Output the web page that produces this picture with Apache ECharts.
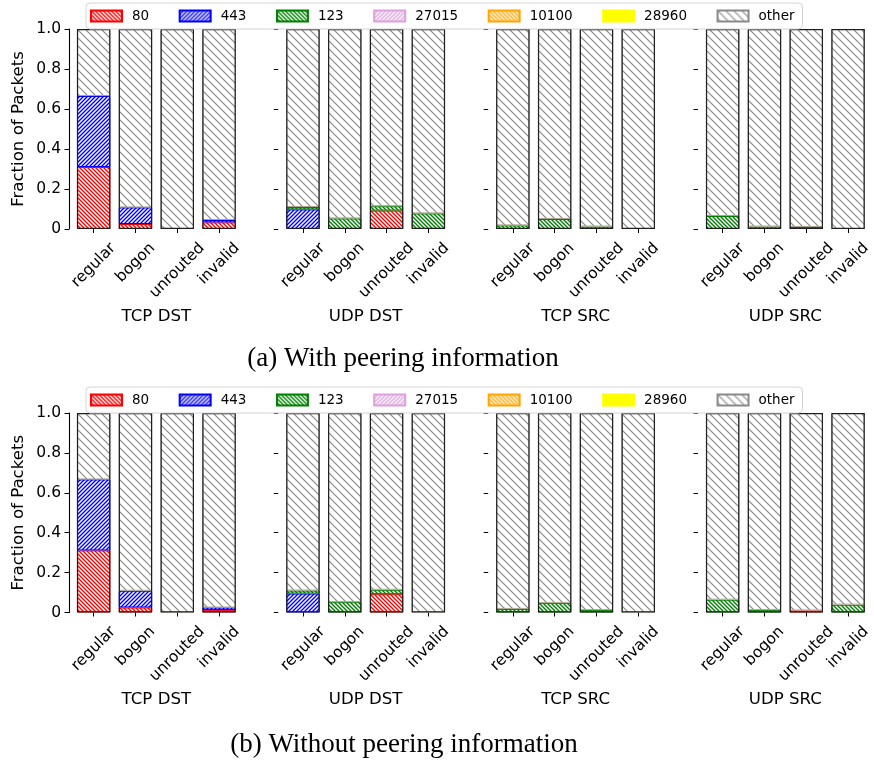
<!DOCTYPE html>
<html><head><meta charset="utf-8">
<script src="https://cdn.jsdelivr.net/npm/echarts@6/dist/echarts.min.js"></script>
<style>html,body{margin:0;padding:0;background:#fff}#c{width:874px;height:760px}</style>
</head><body><div id="c"></div><script>
const categories = ['regular', 'bogon', 'unrouted', 'invalid'];
const groups = ['TCP DST', 'UDP DST', 'TCP SRC', 'UDP SRC'];
const seriesNames = ['80', '443', '123', '27015', '10100', '28960', 'other'];
const yTicks = [0, 0.2, 0.4, 0.6, 0.8, 1.0];
const subtitles = ['(a) With peering information', '(b) Without peering information'];
const yTitle = 'Fraction of Packets';

// (a) With peering information — one row per group, one column per category
const withPeer80    = [[0.31, 0.025, 0, 0.033], [0, 0, 0.092, 0], [0, 0, 0, 0], [0, 0, 0.01, 0]];
const withPeer443   = [[0.355, 0.083, 0, 0.012], [0.098, 0, 0, 0], [0, 0, 0, 0], [0, 0, 0, 0]];
const withPeer123   = [[0, 0, 0, 0], [0.012, 0.053, 0.022, 0.078], [0.018, 0.05, 0.012, 0], [0.065, 0.012, 0, 0]];
const withPeer27015 = [[0, 0, 0, 0], [0, 0, 0, 0], [0, 0, 0, 0], [0, 0, 0, 0]];
const withPeer10100 = [[0, 0, 0, 0], [0, 0, 0, 0], [0, 0, 0, 0], [0, 0, 0, 0]];
const withPeer28960 = [[0, 0, 0, 0], [0, 0, 0, 0], [0, 0, 0, 0], [0, 0, 0, 0]];
const withPeerOther = [[0.335, 0.892, 1.0, 0.955], [0.89, 0.947, 0.886, 0.922], [0.982, 0.95, 0.988, 1.0], [0.935, 0.988, 0.99, 1.0]];

// (b) Without peering information
const noPeer80    = [[0.311, 0.025, 0, 0.012], [0, 0, 0.092, 0], [0, 0, 0, 0], [0, 0, 0.01, 0]];
const noPeer443   = [[0.356, 0.084, 0, 0.013], [0.095, 0, 0, 0], [0, 0, 0, 0], [0, 0, 0, 0]];
const noPeer123   = [[0, 0, 0, 0], [0.015, 0.052, 0.022, 0], [0.018, 0.047, 0.012, 0], [0.064, 0.012, 0, 0.039]];
const noPeer27015 = [[0, 0, 0, 0], [0, 0, 0, 0], [0, 0, 0, 0], [0, 0, 0, 0]];
const noPeer10100 = [[0, 0, 0, 0], [0, 0, 0, 0], [0, 0, 0, 0], [0, 0, 0, 0]];
const noPeer28960 = [[0, 0, 0, 0], [0, 0, 0, 0], [0, 0, 0, 0], [0, 0, 0, 0]];
const noPeerOther = [[0.333, 0.891, 1.0, 0.975], [0.89, 0.948, 0.886, 1.0], [0.982, 0.953, 0.988, 1.0], [0.936, 0.988, 0.99, 0.961]];

const rows = [
  [withPeer80, withPeer443, withPeer123, withPeer27015, withPeer10100, withPeer28960, withPeerOther],
  [noPeer80, noPeer443, noPeer123, noPeer27015, noPeer10100, noPeer28960, noPeerOther]
];

// ---------- styles ----------
function hatch(color, dir, size, lw) {
  const c = document.createElement('canvas');
  c.width = size; c.height = size;
  const g = c.getContext('2d');
  g.fillStyle = '#ffffff'; g.fillRect(0, 0, size, size);
  g.strokeStyle = color; g.lineWidth = lw; g.lineCap = 'square';
  g.beginPath();
  for (let k = -1; k <= 1; k++) {
    const o = k * size;
    if (dir === '\\') { g.moveTo(o, 0); g.lineTo(o + size, size); }
    else { g.moveTo(o, size); g.lineTo(o + size, 0); }
  }
  g.stroke();
  return { image: c, repeat: 'repeat' };
}
const styles = [
  { fill: hatch('#ff0000', '\\', 4, 1.4), edge: '#ff0000' },
  { fill: hatch('#0000ff', '/', 4, 1.4), edge: '#0000ff' },
  { fill: hatch('#008000', '\\', 4, 1.4), edge: '#008000' },
  { fill: hatch('#dda0dd', '/', 4, 1.4), edge: '#dda0dd' },
  { fill: hatch('#ffa500', '\\', 4, 1.4), edge: '#ffa500' },
  { fill: '#ffff00', edge: '#ffff00' },
  { fill: hatch('#8a8a8a', '\\', 8, 1.2), edge: '#a9a28c' }
];

const FONT = '"DejaVu Sans", sans-serif';
const tickFs = 15.5, labelFs = 16.6;
const spines = [69, 278.3, 488.2, 698];
const catW = 41.8;
const gridTops = [29, 413];
const gridHeights = [200, 199.5];
const mctx = document.createElement('canvas').getContext('2d');
mctx.font = tickFs + 'px "DejaVu Sans"';

// rotated labels: bounding boxes top-aligned under the axis, centred on the tick
function catItems() {
  return categories.map(function (c) {
    const L = mctx.measureText(c).width;
    const d = 12.5 + (L + 11.6) * 0.354;
    const P = 1.414 * d;
    return { value: c, textStyle: { align: 'center', verticalAlign: 'middle', padding: [0, P, 0, 0],
      lineHeight: P, fontSize: tickFs, fontFamily: FONT, color: '#000' } };
  });
}

const grids = [], xAxes = [], yAxes = [], series = [];
for (let r = 0; r < 2; r++) {
  for (let p = 0; p < 4; p++) {
    const idx = r * 4 + p;
    const left = spines[p] + 0.59 * catW - catW / 2;
    grids.push({ left: left, top: gridTops[r], width: catW * 4, height: gridHeights[r], outerBoundsMode: 'none', containLabel: false });
    xAxes.push({
      type: 'category', gridIndex: idx, data: catItems(),
      axisLine: { show: false },
      axisTick: { show: true, alignWithLabel: true, length: 4, lineStyle: { color: '#000', width: 1 } },
      axisLabel: { interval: 0, rotate: 45, align: 'center', verticalAlign: 'middle', margin: 0,
        fontSize: tickFs, fontFamily: FONT, color: '#000', hideOverlap: false,
        formatter: function (v) { return '\n' + v; } },
      splitLine: { show: false },
      name: groups[p], nameLocation: 'middle', nameGap: 79, nameMoveOverlap: false,
      nameTextStyle: { fontSize: labelFs, fontFamily: FONT, color: '#000' }
    });
    yAxes.push({
      type: 'value', gridIndex: idx, min: yTicks[0], max: yTicks[yTicks.length - 1],
      interval: yTicks[1] - yTicks[0], offset: left - spines[p],
      axisLine: { show: p === 0, lineStyle: { color: '#000', width: 1.1 } },
      axisTick: { show: true, length: 4.5, lineStyle: { color: '#000', width: 1 } },
      axisLabel: { show: p === 0, margin: 8, fontSize: tickFs, fontFamily: FONT, color: '#000',
        formatter: function (v) { return v === 0 ? '0' : v.toFixed(1); } },
      splitLine: { show: false },
      name: p === 0 ? yTitle : '', nameLocation: 'middle', nameRotate: 90, nameGap: 42, nameMoveOverlap: false,
      nameTextStyle: { fontSize: labelFs, fontFamily: FONT, color: '#000' }
    });
    const totals = [0, 0, 0, 0];
    for (let s = 0; s < seriesNames.length; s++) {
      const vals = rows[r][s][p];
      vals.forEach(function (v, i) { totals[i] += v; });
      series.push({
        type: 'bar', name: seriesNames[s], xAxisIndex: idx, yAxisIndex: idx,
        stack: 'st' + idx, barWidth: '80%', barGap: '-100%',
        data: vals.map(function (v) { return v === 0 ? '-' : v; }),
        itemStyle: { color: styles[s].fill, borderColor: styles[s].edge, borderWidth: 1 },
        emphasis: { disabled: true }, silent: true, animation: false
      });
    }
    series.push({
      type: 'bar', name: 'frame', xAxisIndex: idx, yAxisIndex: idx,
      barWidth: '80%', barGap: '-100%', data: totals, z: 5,
      itemStyle: { color: 'rgba(0,0,0,0)', borderColor: '#1e1e1e', borderWidth: 1.2 },
      emphasis: { disabled: true }, silent: true, animation: false
    });
  }
}

function legendAt(top) {
  return {
    data: seriesNames.map(function (n) {
      return n === 'other' ? { name: n, itemStyle: { borderColor: '#8a8a8a' } } : n;
    }),
    top: top, left: 86, orient: 'horizontal',
    itemWidth: 31, itemHeight: 11, itemGap: 29.5, icon: 'rect',
    textStyle: { fontSize: 13.5, fontFamily: FONT, color: '#000', padding: [0, 0, 0, 5] },
    backgroundColor: '#ffffff', borderColor: '#d4d4d4', borderWidth: 1, borderRadius: 4,
    padding: [6, 8, 6, 4], selectedMode: false, z: 10
  };
}

const chart = echarts.init(document.getElementById('c'), null, { renderer: 'canvas' });
chart.setOption({
  backgroundColor: '#ffffff',
  animation: false,
  grid: grids, xAxis: xAxes, yAxis: yAxes, series: series,
  legend: [legendAt(3), legendAt(387)],
  graphic: [
    { type: 'text', x: 403, y: 359, style: { text: subtitles[0], font: '27px "Liberation Serif", serif', fill: '#000',
      align: 'center', verticalAlign: 'middle', textAlign: 'center', textVerticalAlign: 'middle' } },
    { type: 'text', x: 404, y: 745, style: { text: subtitles[1], font: '27px "Liberation Serif", serif', fill: '#000',
      align: 'center', verticalAlign: 'middle', textAlign: 'center', textVerticalAlign: 'middle' } }
  ]
});
</script></body></html>
